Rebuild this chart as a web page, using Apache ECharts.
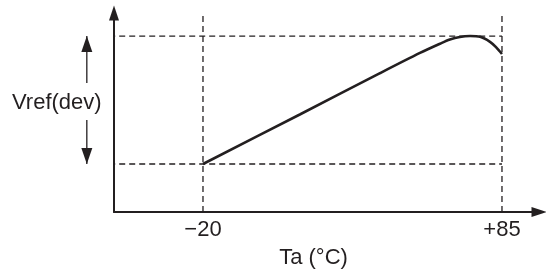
<!DOCTYPE html>
<html>
<head>
<meta charset="utf-8">
<script src="https://cdn.jsdelivr.net/npm/echarts@6/dist/echarts.min.js"></script>
<style>
  html, body { margin: 0; padding: 0; background: #fff; }
  #main { width: 546px; height: 274px; }
</style>
</head>
<body>
<div id="main"></div>
<script>
var ink = '#231f20';

// curve: Ta (degC) vs Vref, in % of the Vref(dev) band
var curveTemp = [-20, 14, 42, 56.2, 63.2, 66.7, 70.2, 73.8, 77.3, 80.8, 82.9, 85];
var curveVref = [0, 38.7, 70.8, 86.8, 94.0, 97.3, 99.3, 100, 99.4, 95.5, 91.4, 86];

// guide lines
var tempMarks = [-20, 85];
var tickText = ['\u221220', '+85'];
var bandLevels = [0, 100];
var guideLeft = -74;
var guideTop = 116.4;

// double arrow marking Vref(dev), drawn in the left margin grid
var arrowTemp = -60.8;
var arrowGap = [34.4, 63.3];

var xMin = -51.25, xMax = 98;
var yMin = -37.5, yMax = 118;
var marginMin = -77.25;

function pairs(xs, ys) {
  return xs.map(function (x, i) { return [x, ys[i]]; });
}

var dashStyle = { color: ink, width: 1.3, type: [6, 4] };
var series = [];

bandLevels.forEach(function (v) {
  series.push({
    type: 'line', clip: false, silent: true, symbol: 'none',
    lineStyle: dashStyle,
    data: [[guideLeft, v], [tempMarks[1], v]]
  });
});
tempMarks.forEach(function (t) {
  series.push({
    type: 'line', clip: false, silent: true, symbol: 'none',
    lineStyle: dashStyle,
    data: [[t, yMin], [t, guideTop]]
  });
});

// arrow halves: from the gap out to each band level
[[arrowGap[1], bandLevels[1], 0, 8], [arrowGap[0], bandLevels[0], 180, -8]].forEach(function (a) {
  series.push({
    type: 'line', clip: false, silent: true,
    xAxisIndex: 1, yAxisIndex: 1,
    symbol: 'triangle', symbolSize: [11, 16], showAllSymbol: true,
    itemStyle: { color: ink },
    lineStyle: { color: ink, width: 1.3 },
    data: [
      { value: [arrowTemp, a[0]], symbol: 'none' },
      { value: [arrowTemp, a[1]], symbolRotate: a[2], symbolOffset: [0, a[3]] }
    ]
  });
});

series.push({
  type: 'line', clip: false, silent: true, symbol: 'none',
  smooth: 0.3,
  lineStyle: { color: ink, width: 2.6 },
  data: pairs(curveTemp, curveVref)
});

var chart = echarts.init(document.getElementById('main'));
chart.setOption({
  animation: false,
  grid: [
    { left: 114, right: 7, top: 13, bottom: 62 },
    { left: 40, width: 74, top: 13, bottom: 62 }
  ],
  xAxis: [{
    type: 'value', min: xMin, max: xMax,
    splitLine: { show: false },
    axisTick: { show: false },
    axisLine: {
      onZero: false,
      symbol: ['none', 'triangle'], symbolSize: [10, 15],
      lineStyle: { color: ink, width: 2 }
    },
    axisLabel: {
      customValues: tempMarks,
      margin: 7,
      color: ink, fontSize: 22, fontFamily: 'Liberation Sans',
      formatter: function (v) { return tickText[tempMarks.indexOf(v)]; }
    },
    name: 'Ta (\u00b0C)',
    nameLocation: 'middle',
    nameGap: 35,
    nameTextStyle: { color: ink, fontSize: 22, fontFamily: 'Liberation Sans', padding: [0, 26, 0, 0] }
  }, {
    type: 'value', gridIndex: 1, min: marginMin, max: xMin, show: false
  }],
  yAxis: [{
    type: 'value', min: yMin, max: yMax,
    splitLine: { show: false },
    axisTick: { show: false },
    axisLabel: { show: false },
    axisLine: {
      onZero: false,
      symbol: ['none', 'triangle'], symbolSize: [10, 15],
      lineStyle: { color: ink, width: 2 }
    }
  }, {
    type: 'value', gridIndex: 1, min: yMin, max: yMax, show: false
  }],
  graphic: [{
    type: 'text', left: 12, top: 92,
    style: { text: 'Vref(dev)', fill: ink, font: '22px "Liberation Sans"' }
  }],
  series: series
});
</script>
</body>
</html>
